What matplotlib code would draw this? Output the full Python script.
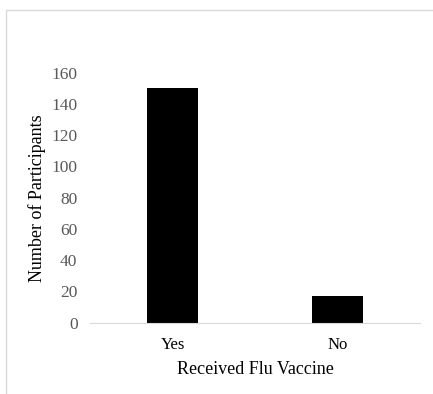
import matplotlib.pyplot as plt
from matplotlib.patches import Rectangle

categories = ["Yes", "No"]
counts = [150, 17]
yticks = [0, 20, 40, 60, 80, 100, 120, 140, 160]

plt.rcParams["font.family"] = ["Liberation Serif", "DejaVu Serif"]

fig = plt.figure(figsize=(4.33, 3.94), dpi=100)
ax = fig.add_axes([90 / 433, (394 - 322.7) / 394, 330 / 433, 250 / 394])

# light frame around the chart area
fig.patches.append(Rectangle((6 / 433, -0.01), 440 / 433, (394 - 10) / 394 + 0.01,
                             transform=fig.transFigure, fill=False,
                             edgecolor="#d9d9d9", linewidth=1))

x = range(len(categories))
ax.bar(x, counts, width=0.315, color="black")

ax.set_xlim(-0.5, 1.5)
ax.set_ylim(0, 160)
ax.set_yticks(yticks)
ax.set_xticks(list(x))
ax.set_xticklabels(categories, fontsize=12)
ax.tick_params(axis="y", length=0, pad=9, labelsize=12.5, labelcolor="#595959")
ax.tick_params(axis="x", length=0, pad=10)

for s in ["top", "right", "left"]:
    ax.spines[s].set_visible(False)
ax.spines["bottom"].set_color("#d9d9d9")

ax.set_ylabel("Number of Participants", fontsize=13, labelpad=4)
ax.set_xlabel("Received Flu Vaccine", fontsize=13, labelpad=6)

fig.savefig("out.png", dpi=100)
